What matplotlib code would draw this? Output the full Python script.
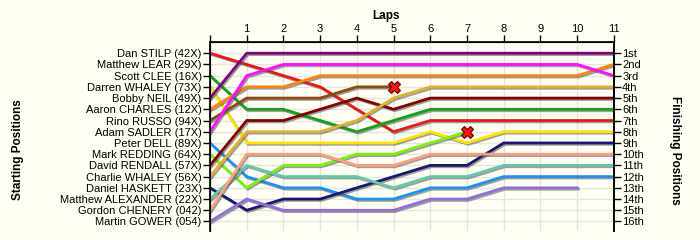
import numpy as np
import matplotlib
matplotlib.use("Agg")
import matplotlib.pyplot as plt
import matplotlib.patheffects as pe

plt.rcParams['font.family'] = ['Liberation Sans', 'DejaVu Sans']

# Starting order (lap 0)
drivers = ["Dan STILP (42X)", "Matthew LEAR (29X)", "Scott CLEE (16X)", "Darren WHALEY (73X)",
           "Bobby NEIL (49X)", "Aaron CHARLES (12X)", "Rino RUSSO (94X)", "Adam SADLER (17X)",
           "Peter DELL (89X)", "Mark REDDING (64X)", "David RENDALL (57X)", "Charlie WHALEY (56X)",
           "Daniel HASKETT (23X)", "Matthew ALEXANDER (22X)", "Gordon CHENERY (042)", "Martin GOWER (054)"]

# Position at each lap, starting at lap 0
positions = {
    "Dan STILP (42X)": [1, 2, 3, 4, 6, 8, 7, 7, 7, 7, 7, 7],
    "Matthew LEAR (29X)": [],
    "Scott CLEE (16X)": [3, 6, 6, 7, 8, 7, 6, 6, 6, 6, 6, 6],
    "Darren WHALEY (73X)": [4, 9, 9, 9, 9, 9, 8, 9, 8, 8, 8, 8],
    "Bobby NEIL (49X)": [5, 1, 1, 1, 1, 1, 1, 1, 1, 1, 1, 1],
    "Aaron CHARLES (12X)": [6, 4, 4, 3, 3, 3, 3, 3, 3, 3, 3, 2],
    "Rino RUSSO (94X)": [7, 5, 5, 5, 4, 4],
    "Adam SADLER (17X)": [8, 3, 2, 2, 2, 2, 2, 2, 2, 2, 2, 3],
    "Peter DELL (89X)": [9, 12, 13, 13, 14, 14, 13, 13, 12, 12, 12, 12],
    "Mark REDDING (64X)": [10, 13, 11, 11, 10, 10, 9, 8],
    "David RENDALL (57X)": [11, 7, 7, 6, 5, 6, 5, 5, 5, 5, 5, 5],
    "Charlie WHALEY (56X)": [12, 8, 8, 8, 7, 5, 4, 4, 4, 4, 4, 4],
    "Daniel HASKETT (23X)": [13, 15, 14, 14, 13, 12, 11, 11, 9, 9, 9, 9],
    "Matthew ALEXANDER (22X)": [14, 11, 12, 12, 12, 13, 12, 12, 11, 11, 11, 11],
    "Gordon CHENERY (042)": [15, 10, 10, 10, 11, 11, 10, 10, 10, 10, 10, 10],
    "Martin GOWER (054)": [16, 14, 15, 15, 15, 15, 14, 14, 13, 13, 13],
}
retired = ["Rino RUSSO (94X)", "Mark REDDING (64X)"]

colors = {
    "Dan STILP (42X)": "#e81818",
    "Matthew LEAR (29X)": "#000000",
    "Scott CLEE (16X)": "#18a018",
    "Darren WHALEY (73X)": "#ffe400",
    "Bobby NEIL (49X)": "#800080",
    "Aaron CHARLES (12X)": "#ff8410",
    "Rino RUSSO (94X)": "#8b4a14",
    "Adam SADLER (17X)": "#ff10ff",
    "Peter DELL (89X)": "#2090f0",
    "Mark REDDING (64X)": "#80f010",
    "David RENDALL (57X)": "#800000",
    "Charlie WHALEY (56X)": "#e0b030",
    "Daniel HASKETT (23X)": "#181870",
    "Matthew ALEXANDER (22X)": "#66c8a8",
    "Gordon CHENERY (042)": "#ffa080",
    "Martin GOWER (054)": "#9070d8",
}

finish_labels = ["1st", "2nd", "3rd", "4th", "5th", "6th", "7th", "8th",
                 "9th", "10th", "11th", "12th", "13th", "14th", "15th", "16th"]
laps = list(range(0, 12))

bg = "#fffff4"
fig = plt.figure(figsize=(7, 2.4), dpi=100, facecolor=bg)
ax = fig.add_axes([0.3, 0.0375, 0.577, 0.7875], facecolor=bg)

shadow = [pe.SimpleLineShadow(offset=(1, -1), shadow_color="#505050", alpha=0.55), pe.Normal()]
for name in drivers:
    pos = positions[name]
    if not pos:
        continue
    x = laps[:len(pos)]
    ax.plot(x, pos, color=colors[name], lw=2, solid_joinstyle="miter", path_effects=shadow, zorder=3)
    if name in retired:
        ax.plot(x[-1], pos[-1], marker="X", ms=8.5, mfc="#ff1010", mec="#600000", mew=0.8, zorder=5)

ax.set_xlim(0, 11)
ax.set_ylim(16.85, 0)
ax.xaxis.tick_top()
ax.set_xticks(laps)
ax.set_xticklabels([""] + [str(l) for l in laps[1:]])
ax.set_yticks(range(1, 17))
ax.set_yticklabels(drivers)
ax.tick_params(axis="both", direction="out", length=5, width=1, labelsize=8, pad=1)
ax.grid(True, color="#e4e4e4", lw=1)
ax.set_axisbelow(True)
ax.spines["bottom"].set_visible(False)
for s in ["top", "left", "right"]:
    ax.spines[s].set_linewidth(1.2)

ax2 = ax.twinx()
ax2.set_ylim(16.85, 0)
ax2.set_yticks(range(1, 17))
ax2.set_yticklabels(finish_labels)
ax2.tick_params(axis="y", direction="out", length=5, width=1, labelsize=8, pad=1)
ax2.spines["bottom"].set_visible(False)
ax2.spines["right"].set_linewidth(1.2)

fig.text(0.552, 0.935, "Laps", fontsize=8.5, fontweight="bold", ha="center", va="center")
fig.text(0.026, 0.375, "Starting Positions", rotation=90, fontsize=8.5, fontweight="bold",
         ha="center", va="center")
fig.text(0.964, 0.375, "Finishing Positions", rotation=270, fontsize=8.5, fontweight="bold",
         ha="center", va="center")

fig.savefig("out.png", dpi=100, facecolor=bg)
